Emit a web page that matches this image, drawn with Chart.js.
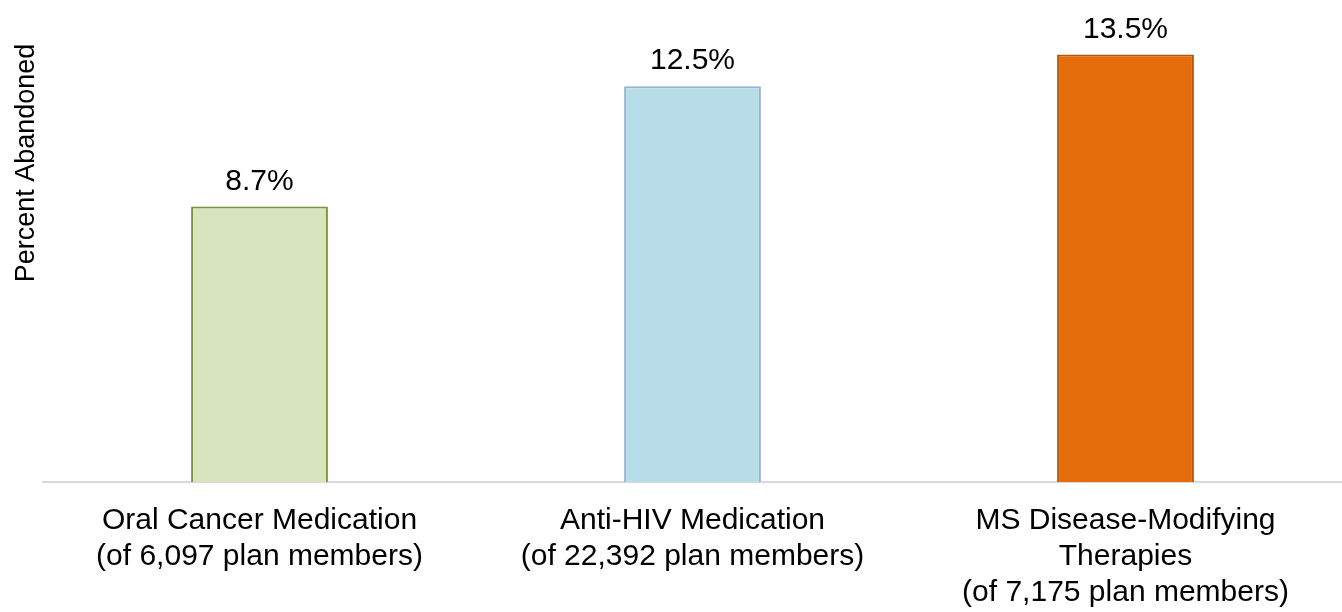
<!DOCTYPE html>
<html>
<head>
<meta charset="utf-8">
<script src="https://cdn.jsdelivr.net/npm/chart.js@4"></script>
<style>
  html, body { margin: 0; padding: 0; background: #fff; }
  #wrap { width: 1342px; height: 612px; }
</style>
</head>
<body>
<div id="wrap"><canvas id="abandonChart"></canvas></div>
<script>
// chart data
const categories = [
  ['Oral Cancer Medication', '(of 6,097 plan members)'],
  ['Anti-HIV Medication', '(of 22,392 plan members)'],
  ['MS Disease-Modifying', 'Therapies', '(of 7,175 plan members)']
];
const percentAbandoned = [8.7, 12.5, 13.5];
const yTitle = 'Percent Abandoned';
const barColors = ['#d7e4bd', '#b7dde8', '#e46c0a'];
const barBorders = ['#77933c', '#95b3d7', '#b65708'];

const FONT = '"Liberation Sans", Arial, sans-serif';

// draws the % labels above each bar and the y axis title
const valueLabels = {
  id: 'valueLabels',
  afterDatasetsDraw(chart) {
    const ctx = chart.ctx;
    const meta = chart.getDatasetMeta(0);
    ctx.save();
    ctx.font = '30px ' + FONT;
    ctx.fillStyle = '#000';
    ctx.textAlign = 'center';
    ctx.textBaseline = 'alphabetic';
    meta.data.forEach((bar, i) => {
      ctx.fillText(percentAbandoned[i].toFixed(1) + '%', bar.x, bar.y - 17);
    });

    // y title sits high, like the original
    ctx.font = '27px ' + FONT;
    ctx.translate(34, 163);
    ctx.rotate(-Math.PI / 2);
    ctx.fillText(yTitle, 0, 0);
    ctx.restore();
  }
};

const ctx = document.getElementById('abandonChart').getContext('2d');
new Chart(ctx, {
  type: 'bar',
  data: {
    labels: categories,
    datasets: [{
      label: yTitle,
      data: percentAbandoned,
      backgroundColor: barColors,
      borderColor: barBorders,
      borderWidth: 2,
      borderSkipped: 'bottom',
      categoryPercentage: 1,
      barPercentage: 0.316
    }]
  },
  options: {
    responsive: true,
    maintainAspectRatio: false,
    animation: false,
    layout: { padding: { top: 7, left: 0, right: 0, bottom: 0 } },
    plugins: {
      legend: { display: false },
      tooltip: { enabled: false }
    },
    scales: {
      y: {
        min: 0,
        max: 15,
        grid: { display: false, drawTicks: false },
        border: { display: false },
        ticks: { display: false },
        afterFit(scale) { scale.width = 43; }
      },
      x: {
        grid: { display: false, drawTicks: false },
        border: { display: true, color: '#d9d9d9', width: 2 },
        afterFit(scale) { scale.height = 130; },
        ticks: {
          color: '#000',
          padding: 21,
          maxRotation: 0,
          autoSkip: false,
          font: { family: FONT, size: 30, lineHeight: 1.2 }
        }
      }
    }
  },
  plugins: [valueLabels]
});
</script>
</body>
</html>
